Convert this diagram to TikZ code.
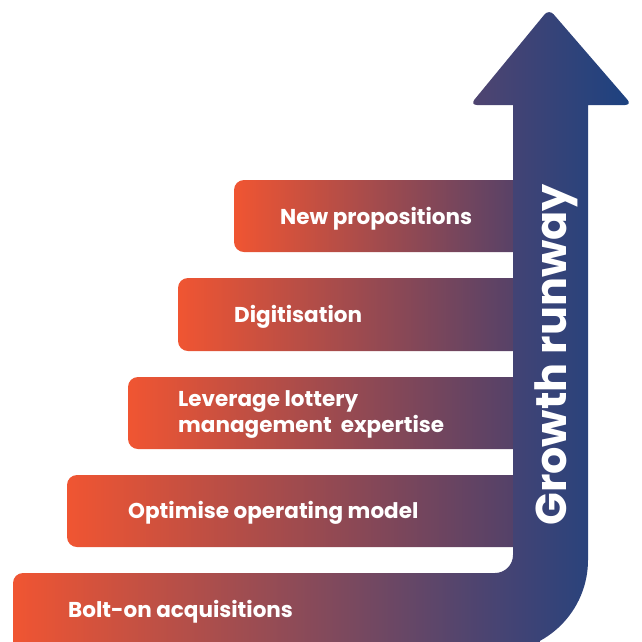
\documentclass[tikz,border=0pt]{standalone}
\usepackage{fontspec}
\setmainfont{Poppins}
\usepackage{xcolor}
\usepackage{tikz}
\definecolor{runwayorange}{RGB}{240, 85, 50}
\definecolor{runwayplum}{RGB}{74, 64, 108}
\definecolor{runwaydusk}{RGB}{56, 66, 120}
\definecolor{runwayheadleft}{RGB}{80, 68, 112}
\definecolor{runwaynavy}{RGB}{28, 66, 128}

\tikzset{
    stepbar/.style={left color=runwayorange,right color=runwayplum,rounded corners=10pt},
    steplabel/.style={anchor=west,text=white,inner sep=0pt,align=left,font=\fontsize{21.5}{26}\selectfont\bfseries},
    runwaylabel/.style={anchor=base,rotate=90,text=white,inner sep=0pt,font=\fontsize{43}{50}\selectfont\bfseries}
}

\begin{document}
\begin{tikzpicture}[x=1pt,y=-1pt]
        \clip (0,0) rectangle (642,641);
        % steps
        \path[stepbar] (234,180) rectangle (540,252);
        \path[stepbar] (178,278) rectangle (540,351);
        \path[stepbar] (128,377) rectangle (540,449);
        \path[stepbar] (67,475) rectangle (540,547);
        \path[stepbar,right color=runwaydusk] (13,573) rectangle (540,672);
        % arrow
        \path[left color=runwayheadleft,right color=runwaynavy]
            (494,573) [rounded corners=18pt] -- (513,573) [sharp corners] -- (513,105)
            [rounded corners=7pt] -- (470,105) -- (549,9) -- (632,105)
            [sharp corners] -- (588,105) [rounded corners=92pt] -- (588,652)
            [sharp corners] -- (494,652) -- cycle;
        % labels
        \node[steplabel] (newprop) at (280,219) {New propositions};
        \node[steplabel] (digitise) at (234,317) {Digitisation};
        \node[steplabel] (leverage) at (178,414) {Leverage lottery\\management~ expertise};
        \node[steplabel] (optimise) at (128,513) {Optimise operating model};
        \node[steplabel] (bolton) at (68,612) {Bolt-on acquisitions};
        \node[runwaylabel] (runway) at (566,355) {Growth runway};
    \end{tikzpicture}
\end{document}
